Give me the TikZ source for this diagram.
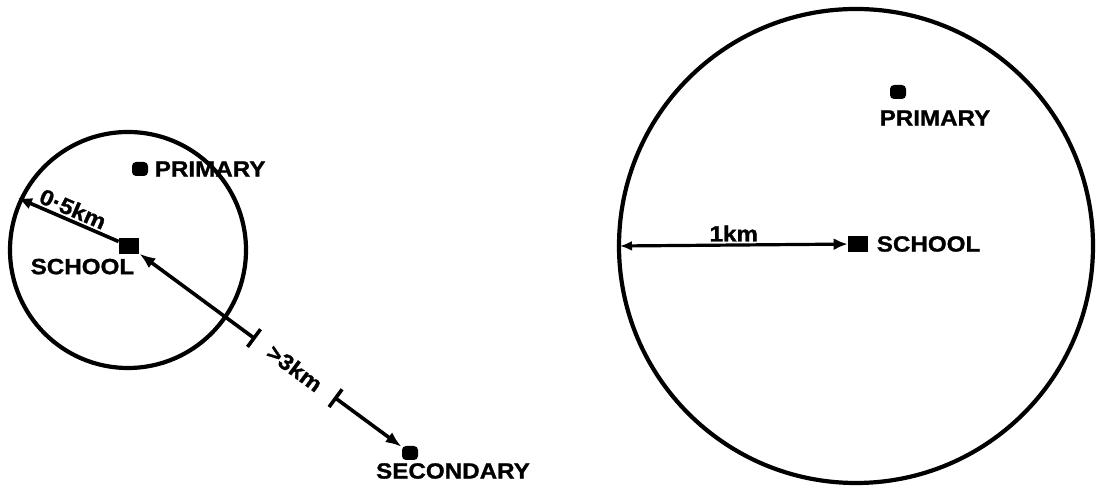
\documentclass[tikz,border=0pt]{standalone}
\usepackage{fontspec}
\setmainfont{Liberation Sans}[FakeStretch=1.1, FakeBold=1.2]
\usetikzlibrary{arrows.meta, positioning, calc}

\begin{document}
\begin{tikzpicture}[
  x=0.5pt, y=-0.5pt,
  ring/.style={draw, line width=2.1pt},
  site/.style={fill=black, inner sep=0pt, minimum width=10pt, minimum height=8pt},
  pnt/.style={site, rounded corners=2pt, minimum width=8pt, minimum height=7pt},
  arr/.style={-{Latex[length=7pt, width=6pt]}, line width=1.8pt},
  dbl/.style={{Latex[length=6pt, width=5pt]}-{Latex[length=7pt, width=6pt]}, line width=1.6pt},
  lbl/.style={font=\bfseries\fontsize{11}{13}\selectfont, inner sep=1pt}
]
\useasboundingbox (0,0) rectangle (1098,490);

% left: small catchment
\coordinate (lc) at (128,250);
\draw[ring] (lc) circle[radius=118];
\node[site] (lschool) at (129,246) {};
\node[lbl, below left=1pt and -9pt of lschool] (lschoollbl) {SCHOOL};
\node[pnt] (lprim) at (140,169) {};
\node[lbl, right=2pt of lprim] (lprimlbl) {PRIMARY};
\node[pnt] (lsec) at (410,453) {};
\node[lbl] (lseclbl) at (453,471) {SECONDARY};
\coordinate (lrim) at (18,198);

\draw[arr] (lschool) -- (lrim) node[lbl, midway, sloped, above] {0·5km};

% dimension line to the secondary school
\coordinate (t1) at ($(lschool)!0.45!(lsec)$);
\coordinate (t2) at ($(lschool)!0.73!(lsec)$);
\draw[line width=1.8pt, {Latex[length=8pt, width=6pt]}-{Bar[width=11pt]}] (lschool) -- (t1);
\draw[line width=1.8pt, {Bar[width=11pt]}-{Latex[length=8pt, width=6pt]}] (t2) -- (lsec);
\node[lbl, rotate=-36.4, inner sep=0pt] (far) at ($(t1)!0.5!(t2)$) {>3km};

% right: large catchment
\coordinate (rc) at (856,246);
\draw[ring] (rc) circle[radius=237];
\node[site] (rschool) at (858,244) {};
\node[lbl, right=3pt of rschool] (rschoollbl) {SCHOOL};
\node[pnt] (rprim) at (898,92) {};
\node[lbl] (rprimlbl) at (935,118) {PRIMARY};
\coordinate (rrim) at (620,246);

\draw[dbl] (rrim) -- (rschool) node[lbl, midway, above] {1km};

\end{tikzpicture}
\end{document}
